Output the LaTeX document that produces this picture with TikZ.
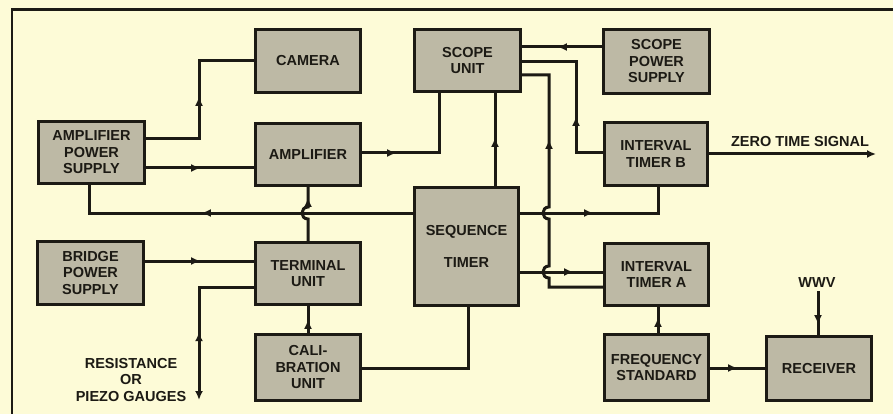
\documentclass[tikz,border=0pt]{standalone}
\usepackage{fontspec}
\setmainfont{Liberation Sans}
\usetikzlibrary{arrows.meta,decorations.markings}
\definecolor{paper}{RGB}{253,251,215}
\definecolor{boxfill}{RGB}{189,185,165}
\definecolor{ink}{RGB}{28,26,20}
\begin{document}
\begin{tikzpicture}[x=1pt,y=-1pt,
  blk/.style={draw=ink, line width=3.4pt, fill=boxfill, inner sep=0pt, align=center,
    font=\fontsize{14.5}{16.5}\selectfont\bfseries, text=ink},
  lbl/.style={font=\fontsize{14.5}{16.8}\selectfont\bfseries, text=ink, align=center, inner sep=0pt},
  wire/.style={draw=ink, color=ink, line width=3pt},
  tip/.style={-{Latex[length=9pt,width=8pt]}},
  arrowat/.style={postaction={decorate}, decoration={markings,
    mark=at position #1 with {\arrow{Latex[length=9pt,width=8pt]}}}},
  backat/.style={postaction={decorate}, decoration={markings,
    mark=at position #1 with {\arrowreversed{Latex[length=9pt,width=8pt]}}}}
]
\fill[paper] (0,0) rectangle (893,414);
\useasboundingbox (0,0) rectangle (893,414);
\draw[ink, line width=2.6pt] (12,414) -- (12,9.5) -- (893,9.5);

% blocks
\node[blk, minimum width=105pt, minimum height=63pt] (cam) at (308,61) {CAMERA};
\node[blk, minimum width=106pt, minimum height=62pt] (aps) at (91.5,152.5) {AMPLIFIER\\POWER\\SUPPLY};
\node[blk, minimum width=105pt, minimum height=62pt] (amp) at (308,154.5) {AMPLIFIER};
\node[blk, minimum width=106pt, minimum height=62pt] (scope) at (467.5,60.5) {SCOPE\\UNIT};
\node[blk, minimum width=106pt, minimum height=64pt] (sps) at (656.5,61.5) {SCOPE\\POWER\\SUPPLY};
\node[blk, minimum width=103pt, minimum height=63pt] (itb) at (656,154) {INTERVAL\\TIMER B};
\node[blk, minimum width=106pt, minimum height=63pt] (bps) at (90.5,273) {BRIDGE\\POWER\\SUPPLY};
\node[blk, minimum width=105pt, minimum height=62pt] (tu) at (308,273.5) {TERMINAL\\UNIT};
\node[blk, minimum width=105pt, minimum height=66pt] (cal) at (308,367.5) {CALI-\\BRATION\\UNIT};
\node[blk, minimum width=104pt, minimum height=118pt] (seq) at (466.5,246.5) {SEQUENCE\\[15pt]TIMER};
\node[blk, minimum width=104pt, minimum height=62pt] (ita) at (656.5,274.5) {INTERVAL\\TIMER A};
\node[blk, minimum width=104pt, minimum height=66pt] (fs) at (656.5,367.5) {FREQUENCY\\STANDARD};
\node[blk, minimum width=105pt, minimum height=64pt] (rcv) at (819,368.5) {RECEIVER};

% free labels and end points
\node[lbl] (zerolbl) at (800,142) {ZERO TIME SIGNAL};
\coordinate (zero) at (876,154);
\node[lbl] (wwv) at (817,283) {WWV};
\node[lbl] (gaugelbl) at (131,380) {RESISTANCE\\OR\\PIEZO GAUGES};
\coordinate (gauge) at (199,400);

% connectors
\draw[wire, arrowat=95pt] (aps.east |- 0,139) -| (199,61) -- (cam.west);
\draw[wire, arrowat=54pt] (aps.east |- 0,168) -- (amp.west |- 0,168);
\draw[wire, arrowat=34pt] (amp.east |- 0,153) -| (scope.south -| 439,0);
\draw[wire, arrowat=44pt] (sps.west |- 0,47) -- (scope.east |- 0,47);
\draw[wire, arrowat=63pt] (itb.west |- 0,153) -| (576,62) -- (scope.east |- 0,62);
\draw[wire, arrowat=215pt] (ita.west |- 0,287) -- (549,287) -- (549,278)
   .. controls (541,278) and (541,266) .. (549,266) -- (549,219)
   .. controls (541,219) and (541,207) .. (549,207) -- (549,75) -- (scope.east |- 0,75);
\draw[wire, arrowat=48pt] (seq.north -| 495,0) -- (scope.south -| 495,0);
\draw[wire, arrowat=73pt] (seq.east |- 0,213) -| (itb.south -| 658,0);
\draw[wire, arrowat=211pt] (seq.west |- 0,213) -| (aps.south -| 89,0);
\draw[wire, arrowat=50pt] (tu.north) -- (308,219)
   .. controls (300,219) and (300,207) .. (308,207) -- (amp.south);
\draw[wire, arrowat=55pt] (bps.east |- 0,261) -- (tu.west |- 0,261);
\draw[wire, tip, backat=100pt] (tu.west |- 0,287) -| (gauge);
\draw[wire, arrowat=13pt] (cal.north) -- (tu.south);
\draw[wire] (cal.east |- 0,368) -| (seq.south -| 468,0);
\draw[wire, arrowat=53pt] (seq.east |- 0,272) -- (ita.west |- 0,272);
\draw[wire, arrowat=15pt] (fs.north -| 658,0) -- (ita.south -| 658,0);
\draw[wire, arrowat=27pt] (fs.east |- 0,368) -- (rcv.west |- 0,368);
\draw[wire, arrowat=33pt] (wwv.south -| 818,0) ++(0,3) -- (rcv.north -| 818,0);
\draw[wire, tip] (itb.east |- 0,154) -- (zero);
\end{tikzpicture}
\end{document}
